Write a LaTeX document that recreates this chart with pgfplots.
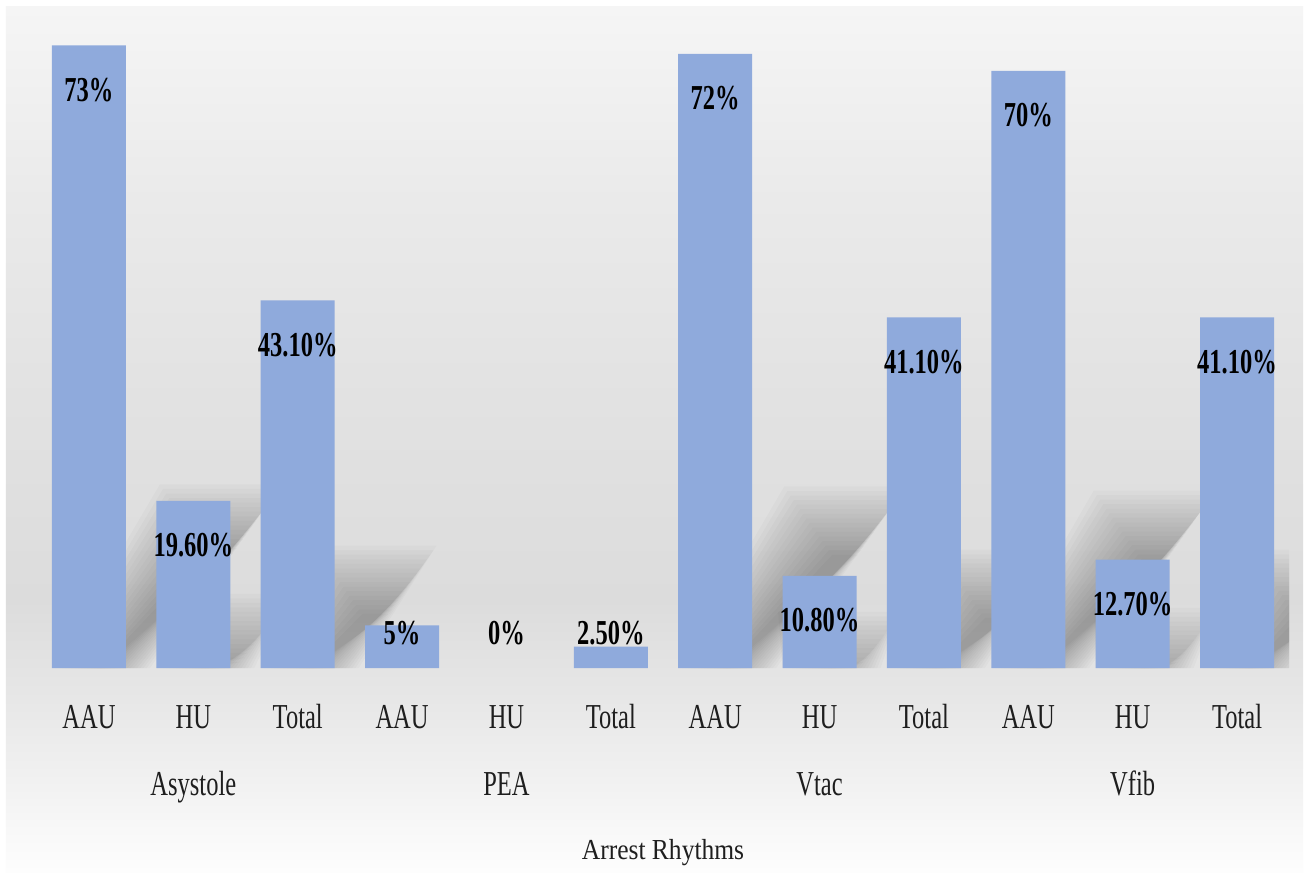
\documentclass[border=0pt]{standalone}
\usepackage{pgfplots}
\pgfplotsset{compat=1.18}
\usepackage{pgfplotstable}
\usepackage{fontspec}
\setmainfont{Liberation Serif}[FakeStretch=0.7]
\newfontfamily\titlefont{Liberation Serif}[FakeStretch=0.88]

\definecolor{barblue}{HTML}{8FAADC}
\definecolor{labelink}{HTML}{1E1E1E}
\definecolor{bgA}{HTML}{FDFDFD}
\definecolor{bgB}{HTML}{F8F8F8}
\definecolor{bgC}{HTML}{F1F1F1}
\definecolor{bgD}{HTML}{E7E7E7}
\definecolor{bgE}{HTML}{DCDCDC}
\definecolor{bgF}{HTML}{E2E2E2}
\definecolor{bgG}{HTML}{EAEAEA}
\definecolor{bgH}{HTML}{F5F5F5}

% panel background: light at the top, darkest just above the bar bases, fading to white
\pgfdeclareverticalshading{panelshade}{100bp}{%
  color(0bp)=(bgA); color(25bp)=(bgA); color(27.4bp)=(bgB); color(30.3bp)=(bgC);
  color(35bp)=(bgD); color(40.7bp)=(bgE); color(52.3bp)=(bgF); color(63.8bp)=(bgG);
  color(75bp)=(bgH); color(100bp)=(bgH)}

\pgfplotstableread{
x v label
0 73 73\%
1 19.6 19.60\%
2 43.1 43.10\%
3 5 5\%
4 0 0\%
5 2.5 2.50\%
6 72 72\%
7 10.8 10.80\%
8 41.1 41.10\%
9 70 70\%
10 12.7 12.70\%
11 41.1 41.10\%
}\rhythms

\begin{document}
\begin{tikzpicture}
\fill[white] (-18.4bp,-103.5bp) rectangle (636.1bp,334bp);
\shade[shading=panelshade] (-15.4bp,-102bp) rectangle (633.1bp,330.5bp);
\begin{axis}[
  at={(0,0)}, anchor=south west,
  scale only axis, width=626.2bp, height=324.15bp,
  xmin=-0.5, xmax=11.5, ymin=0, ymax=76,
  axis line style={draw=none},
  tick style={draw=none},
  major tick length=0pt,
  ytick=\empty,
  xtick={0,...,11},
  xticklabels={AAU,HU,Total,AAU,HU,Total,AAU,HU,Total,AAU,HU,Total},
  xticklabel style={anchor=base, yshift=-30bp, inner sep=0pt,
    font=\fontsize{17.5bp}{20bp}\selectfont, text=labelink},
  extra x ticks={1,4,7,10},
  extra x tick labels={Asystole,PEA,Vtac,Vfib},
  extra x tick style={xticklabel style={yshift=-33.5bp}},
  xlabel={Arrest Rhythms},
  xlabel style={at={(axis description cs:0.5,0)}, anchor=base, yshift=-95.5bp,
    inner sep=0pt, font=\titlefont\fontsize{14.5bp}{17bp}\selectfont, text=labelink},
]
% soft shadows cast up and to the right of each bar:
% nested translucent parallelograms, widest ones faintest at the edge
\pgfplotsinvokeforeach{0,...,11}{%
  \pgfplotstablegetelem{#1}{v}\of\rhythms
  \pgfmathsetmacro\sv{\pgfplotsretval}%
  \ifdim\sv pt>8pt
    \pgfmathsetmacro\dy{0.24*\sv}%
    \pgfmathsetmacro\dx{0.0173*\sv}%
    \pgfplotsforeachungrouped \k in {0,...,15}{%
      \pgfmathsetmacro\ex{0.23*(\k-7.5)/7.5}%
      \pgfmathsetmacro\ey{4.0*(\k-7.5)/7.5}%
      \pgfmathsetmacro\xa{#1-0.3545+0.23-\ex}%
      \pgfmathsetmacro\xb{#1+0.3545+\ex}%
      \pgfmathsetmacro\xc{#1+0.3545+\dx+\ex}%
      \pgfmathsetmacro\xd{#1-0.3545+\dx-\ex}%
      \pgfmathsetmacro\yt{max(\dy+\ey,0.5)}%
      \edef\shadowpath{\noexpand\fill[black, fill opacity=0.021]
        (axis cs:\xa,0) -- (axis cs:\xb,0)
        -- (axis cs:\xc,\yt) -- (axis cs:\xd,\yt) -- cycle;}%
      \shadowpath
    }%
  \fi
}
\addplot[ybar, bar width=37bp, bar shift=0pt, fill=barblue, draw=none,
  y filter/.expression={y==0 ? nan : y}]
  table[x=x, y=v]{\rhythms};
\addplot[draw=none, mark=none, nodes near coords, point meta=explicit symbolic,
  nodes near coords style={anchor=base, inner sep=0pt, text=black,
    font=\bfseries\fontsize{17.5bp}{20bp}\selectfont}]
  table[x=x, y expr={max(\thisrow{v}-6.57,2.7)}, meta=label]{\rhythms};
\end{axis}
\pgfresetboundingbox
\path[use as bounding box] (-18.4bp,-103.5bp) rectangle (636.1bp,334bp);
\end{tikzpicture}
\end{document}
